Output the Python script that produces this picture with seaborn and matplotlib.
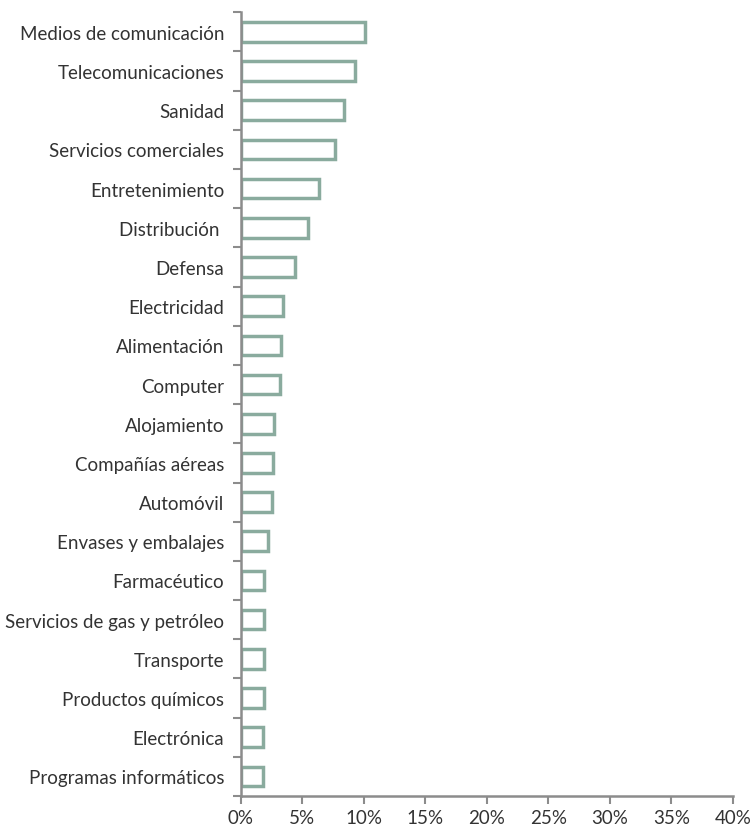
import matplotlib
matplotlib.use("Agg")
import matplotlib.pyplot as plt
import seaborn as sns
import pandas as pd
from matplotlib.ticker import FixedLocator

sectors = ["Medios de comunicación", "Telecomunicaciones", "Sanidad", "Servicios comerciales",
           "Entretenimiento", "Distribución ", "Defensa", "Electricidad", "Alimentación",
           "Computer", "Alojamiento", "Compañías aéreas", "Automóvil", "Envases y embalajes",
           "Farmacéutico", "Servicios de gas y petróleo", "Transporte", "Productos químicos",
           "Electrónica", "Programas informáticos"]
values = [10.1, 9.25, 8.4, 7.7, 6.4, 5.47, 4.41, 3.47, 3.3, 3.17, 2.74, 2.66, 2.52, 2.22,
          1.9, 1.9, 1.9, 1.87, 1.84, 1.79]
xticks = [0, 5, 10, 15, 20, 25, 30, 35, 40]
xticklabels = ["0%", "5%", "10%", "15%", "20%", "25%", "30%", "35%", "40%"]

df = pd.DataFrame({"sector": sectors, "value": values})

sns.set_theme(style="white")
plt.rcParams['font.family'] = ['Lato', 'DejaVu Sans']

fig = plt.figure(figsize=(7.51, 8.29), dpi=100)
ax = fig.add_axes([0.3205, 0.0386, 0.976 - 0.3205, 0.984 - 0.0386])

sns.barplot(data=df, y="sector", x="value", orient="h", ax=ax, fill=False,
            color="#8aab9e", linewidth=2.5, width=0.5)

ax.set_xlim(0, 40)
ax.set_ylim(19.5, -0.5)
ax.set_xticks(xticks)
ax.set_xticklabels(xticklabels, fontsize=13.5, color="#333333")
ax.set_xlabel("")
ax.set_ylabel("")
ax.yaxis.set_major_locator(FixedLocator(list(range(len(sectors)))))
ax.set_yticklabels(sectors, fontsize=13.5, color="#333333")
ax.yaxis.set_minor_locator(FixedLocator([i - 0.5 for i in range(len(sectors) + 1)]))
ax.tick_params(axis="y", which="major", length=0, pad=12)
ax.tick_params(axis="y", which="minor", length=6, width=1.5, color="#8c8c8c", left=True)
ax.tick_params(axis="x", which="major", length=6, width=1.5, color="#8c8c8c", bottom=True, pad=3)

for s in ["top", "right"]:
    ax.spines[s].set_visible(False)
for s in ["left", "bottom"]:
    ax.spines[s].set_color("#8c8c8c")
    ax.spines[s].set_linewidth(1.8)

fig.savefig("out.png", dpi=100)
